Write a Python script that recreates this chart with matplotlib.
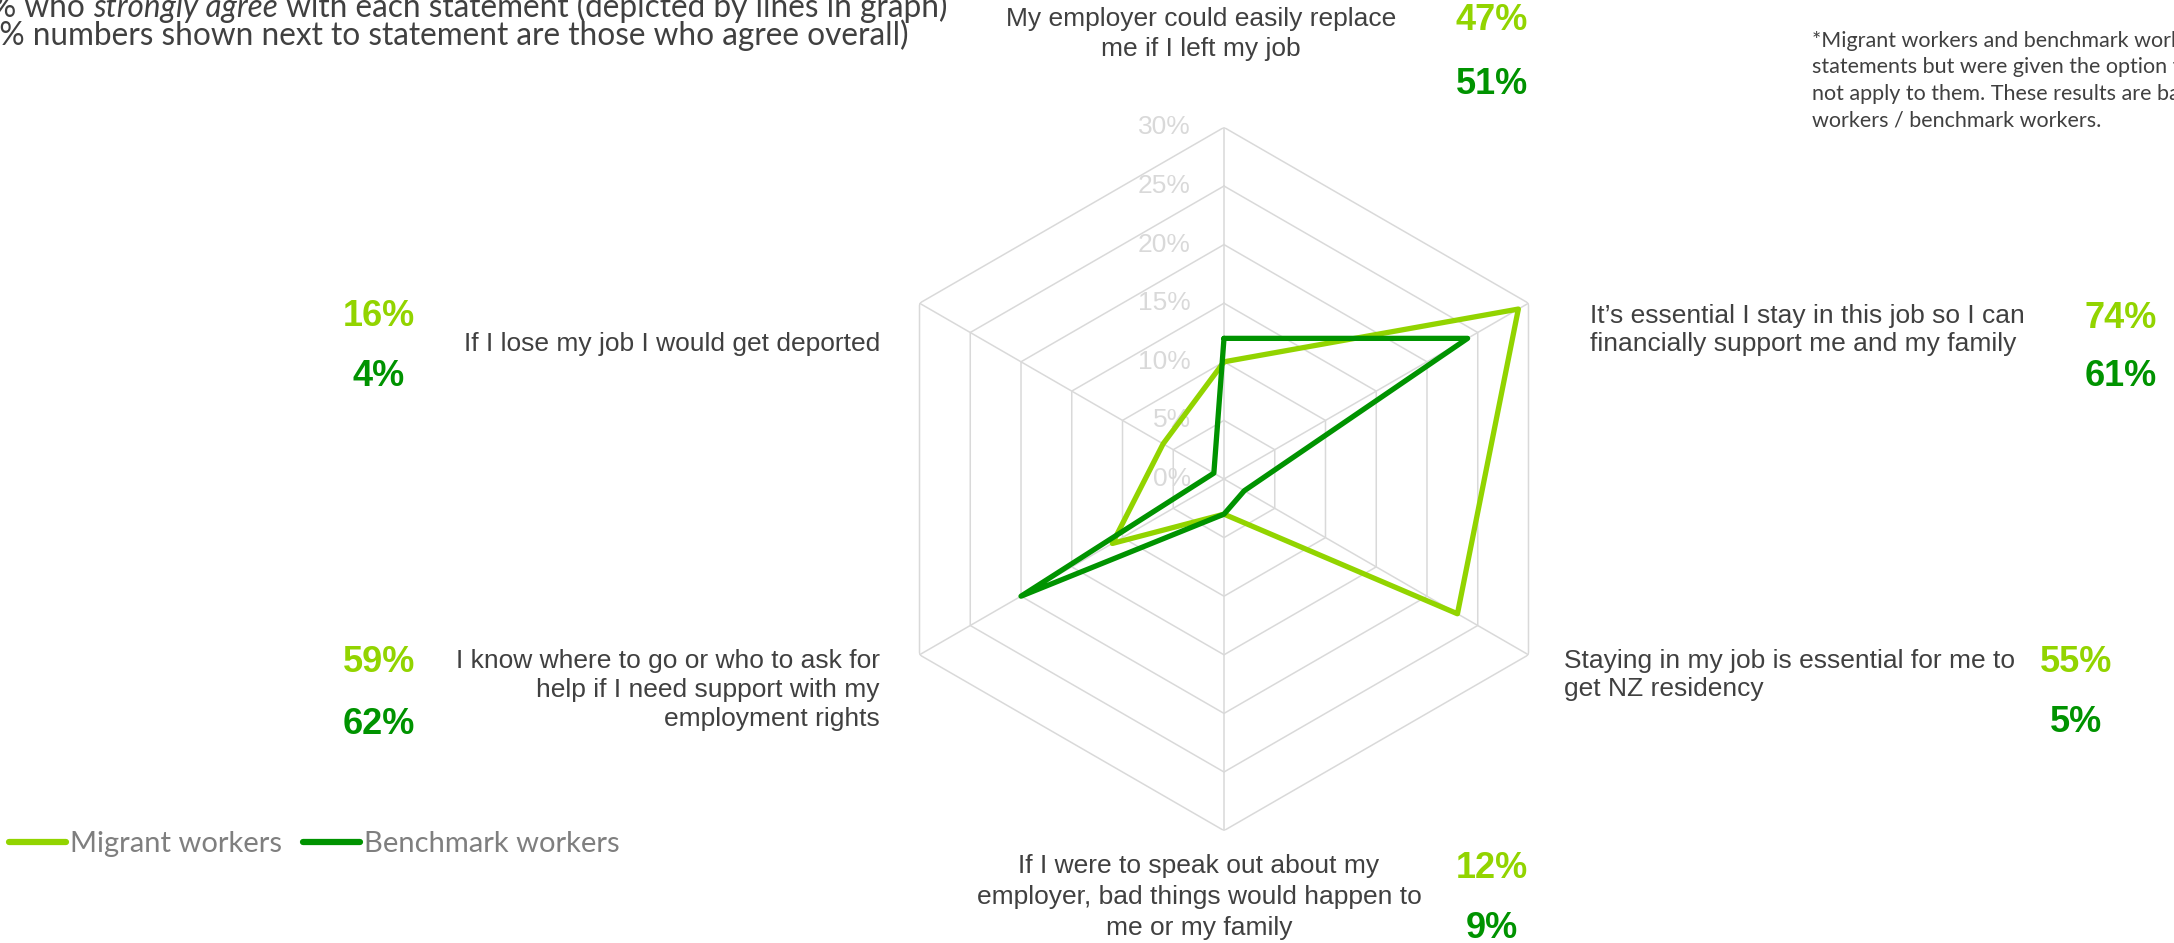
import numpy as np
import matplotlib
matplotlib.use("Agg")
import matplotlib.pyplot as plt
from matplotlib.text import Annotation

# données
categories = [
    "My employer could easily replace\nme if I left my job",
    "It\u2019s essential I stay in this job so I can\nfinancially support me and my family",
    "Staying in my job is essential for me to\nget NZ residency",
    "If I were to speak out about my\nemployer, bad things would happen to\nme or my family",
    "I know where to go or who to ask for\nhelp if I need support with my\nemployment rights",
    "If I lose my job I would get deported",
]
migrant_strong = [10, 29, 23, 3, 11, 6]      # % strongly agree (lignes)
benchmark_strong = [12, 24, 2, 3, 20, 1]
migrant_agree = ["47%", "74%", "55%", "12%", "59%", "16%"]   # % agree overall
benchmark_agree = ["51%", "61%", "5%", "9%", "62%", "4%"]
r_ticks = [0, 5, 10, 15, 20, 25, 30]
r_tick_labels = ["0%", "5%", "10%", "15%", "20%", "25%", "30%"]

LIGHT = "#92D400"
DARK = "#009300"
GRID = "#D9D9D9"
TXT = "#404040"
W, H = 2174, 943

fig = plt.figure(figsize=(W / 100, H / 100), dpi=100)

def fx(x):
    return x / W

def fy(y):
    return 1 - y / H

# axe polaire : centre (1224, 479) px, rayon 351.6 px pour 30 %
cx, cy, R = 1224, 479, 351.6
ax = fig.add_axes([fx(cx - R), fy(cy + R), 2 * R / W, 2 * R / H], projection="polar")
ax.set_theta_offset(np.pi / 2)
ax.set_theta_direction(-1)
ax.set_ylim(0, 30)
ax.grid(False)
ax.spines["polar"].set_visible(False)
ax.set_xticks([])
ax.set_yticks([])
ax.patch.set_alpha(0)

n = len(categories)
theta = np.linspace(0, 2 * np.pi, n, endpoint=False)
theta_c = np.append(theta, theta[0])

# grille hexagonale
for r in r_ticks[1:]:
    ax.plot(theta_c, [r] * (n + 1), color=GRID, lw=1.1, zorder=1)
for t in theta:
    ax.plot([t, t], [0, 30], color=GRID, lw=1.1, zorder=1)
for r, lab in zip(r_ticks, r_tick_labels):
    ax.annotate(lab, xy=(0, r), xytext=(-24, 0), textcoords="offset points",
                ha="right", va="center", color=GRID, fontsize=19,
                family="Liberation Sans", zorder=2)

ax.plot(theta_c, migrant_strong + migrant_strong[:1], color=LIGHT, lw=3.8,
        solid_joinstyle="round", solid_capstyle="round", zorder=3, label="Migrant workers")
ax.plot(theta_c, benchmark_strong + benchmark_strong[:1], color=DARK, lw=3.8,
        solid_joinstyle="round", solid_capstyle="round", zorder=4, label="Benchmark workers")

# libellés des énoncés (x, y, alignement, interligne) en pixels
stmt_pos = [
    (1201, 34, "center", 1.35),
    (1590, 330, "left", 1.25),
    (1564, 675, "left", 1.25),
    (1199, 897, "center", 1.35),
    (880, 690, "right", 1.25),
    (880, 344, "right", 1.25),
]
pct_pos = [
    (1492, 20, 84),
    (2121, 319, 377),
    (2076, 663, 722),
    (1492, 868, 929),
    (379, 663, 724),
    (379, 316, 377),
]
for i in range(n):
    x, y, ha, ls = stmt_pos[i]
    fig.text(fx(x), fy(y), categories[i], ha=ha, va="center", multialignment=ha,
             fontsize=19, color=TXT, family="Liberation Sans", linespacing=ls)
    px, y1, y2 = pct_pos[i]
    fig.text(fx(px), fy(y1), migrant_agree[i], ha="center", va="center",
             fontsize=26, fontweight="bold", color=LIGHT, family="Liberation Sans")
    fig.text(fx(px), fy(y2), benchmark_agree[i], ha="center", va="center",
             fontsize=26, fontweight="bold", color=DARK, family="Liberation Sans")

# texte en haut à gauche (coupé par le bord)
FS_TOP = 22.7
t1 = fig.text(fx(-9), fy(17), "% who ", ha="left", va="baseline", fontsize=FS_TOP,
              color=TXT, family="Lato")
a2 = fig.add_artist(Annotation("strongly agree", xy=(1, 0), xycoords=t1,
                               ha="left", va="bottom", fontsize=FS_TOP, color=TXT,
                               family="Lato", style="italic"))
fig.add_artist(Annotation(" with each statement (depicted by lines in graph)",
                          xy=(1, 0), xycoords=a2, ha="left", va="bottom",
                          fontsize=FS_TOP, color=TXT, family="Lato"))
fig.text(fx(-9), fy(45), "(% numbers shown next to statement are those who agree overall)",
         ha="left", va="baseline", fontsize=FS_TOP, color=TXT, family="Lato")

# note à droite (coupée par le bord)
note = ("*Migrant workers and benchmark workers were asked these\n"
        "statements but were given the option to say it does\n"
        "not apply to them. These results are based on all migrant\n"
        "workers / benchmark workers.")
fig.text(fx(1812), fy(31), note, ha="left", va="top", fontsize=15.5, color=TXT,
         family="Lato", linespacing=1.4)

leg = fig.legend(loc="center left", bbox_to_anchor=(fx(9), fy(844)), ncol=2, frameon=False,
                 prop={"family": "Lato", "size": 21}, labelcolor="#7F7F7F",
                 handlelength=1.95, handletextpad=0.15, columnspacing=0.7,
                 borderpad=0, borderaxespad=0)
for line in leg.get_lines():
    line.set_linewidth(4.5)

fig.savefig("out.png", dpi=100)
